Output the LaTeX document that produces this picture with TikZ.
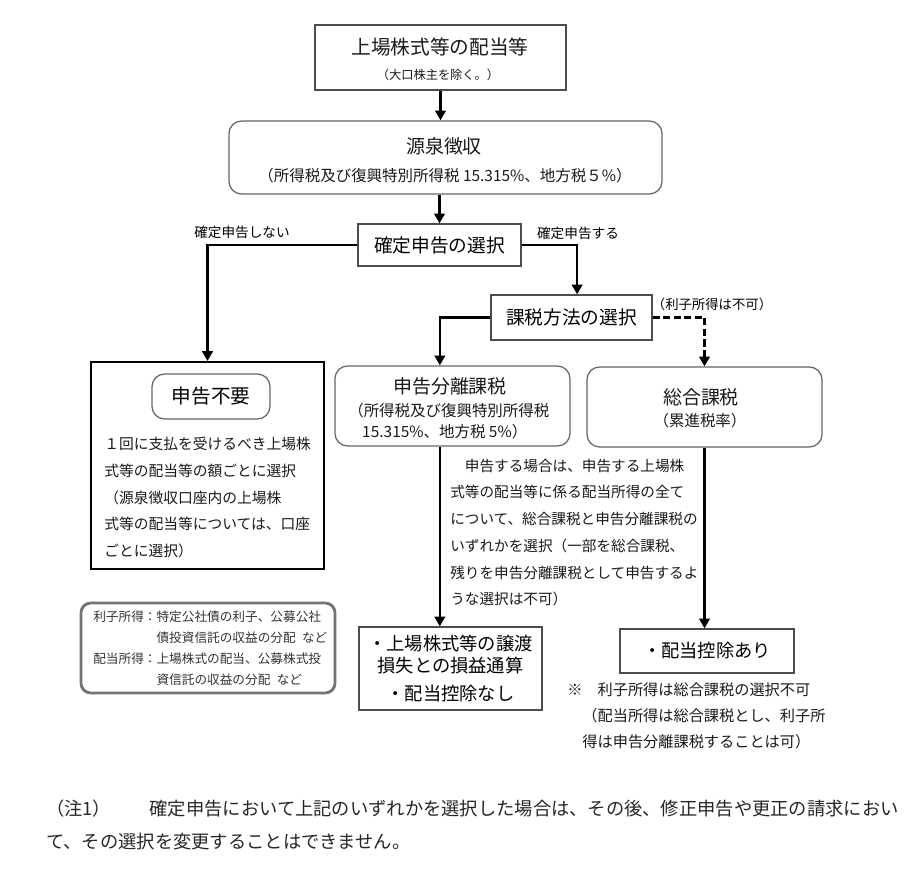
\documentclass[tikz,border=0pt]{standalone}
\usepackage{fontspec}
\setmainfont{Noto Sans CJK JP}
\usetikzlibrary{arrows.meta}
\newcommand{\fs}[2]{\fontsize{#1}{#2}\selectfont}

\begin{document}
\begin{tikzpicture}[
    x=0.025cm, y=-0.025cm,
    sqbox/.style={draw=black!70, line width=0.9pt, inner sep=0pt},
    rbox/.style={draw=black!60, line width=0.9pt, rounded corners=9pt, inner sep=0pt},
    txt/.style={inner sep=0pt, text=black!90},
    lbl/.style={inner sep=0pt, font=\fs{9.7}{12}},
    conn/.style={-{Triangle[length=7pt,width=7.5pt]}, line width=1.8pt},
    dconn/.style={conn, dash pattern=on 5pt off 2.5pt},
]
\useasboundingbox (0,0) rectangle (921,873);

% Source and withholding
\node[sqbox, minimum width=6.275cm, minimum height=1.625cm] (listed) at (440.5,57.5) {};
\node[txt, font=\fs{14}{16}] (listedT) at (440,47.5) {上場株式等の配当等};
\node[txt, font=\fs{8.7}{10}] (listedS) at (438,74.5) {（大口株主を除く。）};

\node[rbox, minimum width=10.825cm, minimum height=1.825cm] (gensen) at (445.5,157.5) {};
\node[txt, font=\fs{13.5}{16}] (gensenT) at (444,146) {源泉徴収};
\node[txt, font=\fs{11}{13}] (gensenS) at (445,175.5) {（所得税及び復興特別所得税 15.315\%、地方税５\%）};

% Choices
\node[sqbox, minimum width=4.075cm, minimum height=1.05cm, font=\fs{13.3}{16}] (kakutei) at (439.5,245) {確定申告の選択};
\node[sqbox, minimum width=4.025cm, minimum height=1.125cm, font=\fs{13.3}{16}] (kazei) at (571.5,317.5) {課税方法の選択};

\node[lbl] (noFile) at (242,232) {確定申告しない};
\node[lbl] (doFile) at (578,233) {確定申告する};
\node[lbl, font=\fs{9.5}{12}] (noInterest) at (712,304) {（利子所得は不可）};

% No filing
\node[draw=black, line width=1.4pt, minimum width=5.8cm, minimum height=5.175cm] (fuyou) at (207.5,465.5) {};
\node[rbox, minimum width=2.95cm, minimum height=1.125cm, font=\fs{14}{16}] (fuyouT) at (211,396.5) {申告不要};
\node[txt, font=\fs{10.5}{19}, align=left, anchor=west] (fuyouS) at (104,497.5)
    {１回に支払を受けるべき上場株\\式等の配当等の額ごとに選択\\（源泉徴収口座内の上場株\\式等の配当等については、口座\\ごとに選択）};

% Taxation methods
\node[rbox, minimum width=5.875cm, minimum height=2cm] (bunri) at (452.5,406) {};
\node[txt, font=\fs{13.5}{16}] (bunriT) at (450,386.5) {申告分離課税};
\node[txt, font=\fs{11}{15}, align=left, anchor=west] (bunriS) at (348,421.5)
    {（所得税及び復興特別所得税\\\hspace*{0.9em}15.315\%、地方税 5\%）};

\node[rbox, minimum width=5.875cm, minimum height=2cm] (sougou) at (704.5,407) {};
\node[txt, font=\fs{13.5}{16}] (sougouT) at (701,397) {総合課税};
\node[txt, font=\fs{11}{13}] (sougouS) at (700,421) {（累進税率）};

\node[txt, font=\fs{10.4}{19}, align=left, anchor=west] (rule) at (450,532.5)
    {　申告する場合は、申告する上場株\\式等の配当等に係る配当所得の全て\\について、総合課税と申告分離課税の\\いずれかを選択（一部を総合課税、\\残りを申告分離課税として申告するよ\\うな選択は不可）};

% Results
\node[sqbox, minimum width=4.575cm, minimum height=2.075cm, font=\fs{13}{15.5}, align=center] (jouto) at (450.5,668.5)
    {・上場株式等の譲渡\\損失との損益通算\\[4pt]・配当控除なし};
\node[sqbox, minimum width=4.35cm, minimum height=1.1cm, font=\fs{13}{15}] (haitou) at (707,651) {・配当控除あり};
\node[txt, font=\fs{10.8}{18.5}, align=left, anchor=west] (note) at (567,716)
    {※　利子所得は総合課税の選択不可\\　（配当所得は総合課税とし、利子所\\　得は申告分離課税することは可）};

% Legend
\node[draw=black!55, line width=2pt, rounded corners=7pt, minimum width=6.35cm, minimum height=2.25cm] (legend) at (208,648) {};
\node[txt, font=\fs{9}{15}, align=left, anchor=west, text=black!80] (legendT) at (93,648.5)
    {利子所得：特定公社債の利子、公募公社\\\hphantom{利子所得：}債投資信託の収益の分配\hspace{0.5em}など\\配当所得：上場株式の配当、公募株式投\\\hphantom{配当所得：}資信託の収益の分配\hspace{0.5em}など};

% Footnote
\node[txt, font=\fs{13}{23.5}, align=left, anchor=west, text=black!85] (note1) at (46,824.5)
    {（注1）\hspace{2.1em}確定申告において上記のいずれかを選択した場合は、その後、修正申告や更正の請求におい\\て、その選択を変更することはできません。};

% Connections
\draw[conn] (listed.south) -- (listed.south |- gensen.north);
\draw[conn] (kakutei.north |- gensen.south) -- (kakutei.north);
\draw[conn] (kakutei.west) -| (fuyou.north);
\draw[conn] (kakutei.east) -| ([xshift=4pt]kazei.north);
\draw[conn] (kazei.west) -| ([xshift=-9pt]bunri.north);
\draw[dconn] (kazei.east) -| (sougou.north);
\draw[conn] ([xshift=-9pt]bunri.south) -- ([xshift=-9pt]bunri.south |- jouto.north);
\draw[conn] (sougou.south) -- (sougou.south |- haitou.north);

\end{tikzpicture}
\end{document}
